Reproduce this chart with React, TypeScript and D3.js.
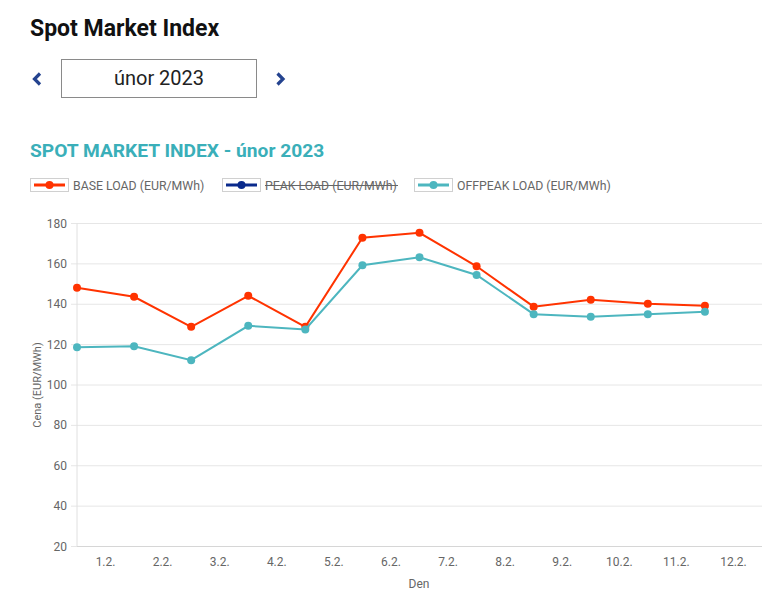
import React from "react";
import * as d3 from "d3";

const days = ["1.2.", "2.2.", "3.2.", "4.2.", "5.2.", "6.2.", "7.2.", "8.2.", "9.2.", "10.2.", "11.2.", "12.2."];
const baseLoad = [148.2, 143.7, 128.8, 144.2, 128.8, 173.0, 175.4, 158.8, 138.8, 142.2, 140.2, 139.2];
const offpeakLoad = [118.7, 119.2, 112.3, 129.3, 127.5, 159.3, 163.3, 154.5, 135.1, 133.8, 135.1, 136.3];
const yTicks = [20, 40, 60, 80, 100, 120, 140, 160, 180];
const legendItems = [
  { label: "BASE LOAD (EUR/MWh)", color: "#ff3300", hidden: false },
  { label: "PEAK LOAD (EUR/MWh)", color: "#0a2a8c", hidden: true },
  { label: "OFFPEAK LOAD (EUR/MWh)", color: "#4db6bf", hidden: false },
];

const W = 780;
const H = 590;
const plot = { left: 77, right: 762, top: 223.5, bottom: 546.5 };
const font = "Roboto, 'Helvetica Neue', Arial, sans-serif";

export default function App() {
  const x = d3.scaleBand<string>().domain(days).range([plot.left, plot.right]).paddingInner(0).paddingOuter(0);
  const y = d3.scaleLinear().domain([20, 180]).range([plot.bottom, plot.top]);
  const line = d3
    .line<number>()
    .x((_, i) => x(days[i]) as number)
    .y((d) => y(d));

  const series = [
    { values: baseLoad, color: legendItems[0].color },
    { values: offpeakLoad, color: legendItems[2].color },
  ];

  const legendX = [30, 222, 414];

  return (
    <svg width={W} height={H} style={{ position: "absolute", left: 0, top: 0, background: "#fff" }} fontFamily={font}>
      <rect x={0} y={0} width={W} height={H} fill="#fff" />
      {/* Header */}
      <text x={30} y={36} fontSize={23} fontWeight={700} fill="#111">
        Spot Market Index
      </text>
      <path d="M40,73.5 L34.5,79 L40,84.5" fill="none" stroke="#24438f" strokeWidth={3.2} />
      <path d="M277.5,73.5 L283,79 L277.5,84.5" fill="none" stroke="#24438f" strokeWidth={3.2} />
      <rect x={61.5} y={59.5} width={195} height={38} fill="#fff" stroke="#8a8a8a" strokeWidth={1} />
      <text x={159} y={85} fontSize={20} textAnchor="middle" fill="#222">
        únor 2023
      </text>

      {/* Chart title */}
      <text x={30} y={157} fontSize={19.2} fontWeight={700} fill="#3aafb9">
        SPOT MARKET INDEX - únor 2023
      </text>

      {/* Legend */}
      {legendItems.map((it, i) => {
        const lx = legendX[i];
        return (
          <g key={it.label}>
            <rect x={lx + 0.5} y={178.5} width={38} height={13} fill="#fff" stroke="#d0d0d0" strokeWidth={1} />
            <line x1={lx + 4} x2={lx + 35} y1={185} y2={185} stroke={it.color} strokeWidth={3} />
            <circle cx={lx + 19.5} cy={185} r={4} fill={it.color} />
            <text x={lx + 43} y={190} fontSize={12.3} fill="#666">
              {it.label}
            </text>
            {it.hidden && (
              <line x1={lx + 43} x2={lx + 43 + 133} y1={185.5} y2={185.5} stroke="#666" strokeWidth={1} />
            )}
          </g>
        );
      })}

      {/* Gridlines */}
      {yTicks.map((t) => (
        <g key={t}>
          <line x1={plot.left - 6} x2={plot.right} y1={y(t)} y2={y(t)} stroke="#e6e6e6" strokeWidth={1} />
          <text x={plot.left - 10} y={y(t) + 4} fontSize={12} textAnchor="end" fill="#666">
            {t}
          </text>
        </g>
      ))}
      <line x1={plot.left} x2={plot.left} y1={plot.top} y2={plot.bottom} stroke="#e0e0e0" strokeWidth={1} />
      <line x1={plot.left} x2={plot.right} y1={plot.bottom} y2={plot.bottom} stroke="#d6d6d6" strokeWidth={1} />

      {/* X labels */}
      {days.map((d) => (
        <text key={d} x={(x(d) as number) + x.bandwidth() / 2} y={566} fontSize={12} textAnchor="middle" fill="#666">
          {d}
        </text>
      ))}

      {/* Axis titles */}
      <text x={419} y={588} fontSize={12} textAnchor="middle" fill="#666">
        Den
      </text>
      <text transform={`translate(41,${(plot.top + plot.bottom) / 2}) rotate(-90)`} fontSize={11} textAnchor="middle" fill="#666">
        Cena (EUR/MWh)
      </text>

      {/* Series */}
      {series.map((s, si) => (
        <g key={si}>
          <path d={line(s.values) || ""} fill="none" stroke={s.color} strokeWidth={2} />
          {s.values.map((v, i) => (
            <circle key={i} cx={x(days[i]) as number} cy={y(v)} r={4} fill={s.color} />
          ))}
        </g>
      ))}
    </svg>
  );
}
